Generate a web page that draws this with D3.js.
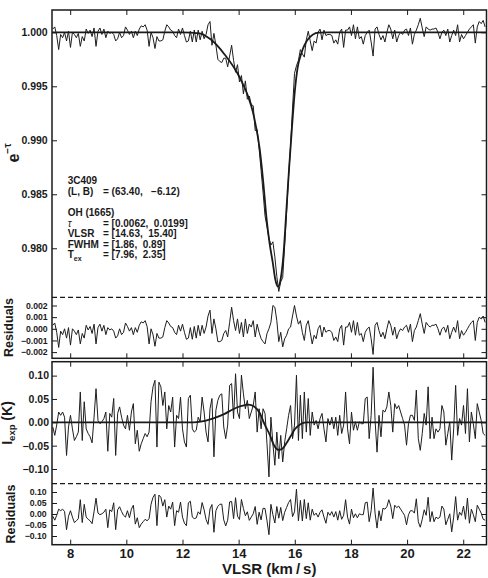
<!DOCTYPE html>
<html>
<head>
<meta charset="utf-8">
<script src="https://cdn.jsdelivr.net/npm/d3@7"></script>
<style>
  body { margin: 0; background: #fff; }
  svg { display: block; font-family: "Liberation Sans", Arial, Helvetica, sans-serif; }
  text { white-space: pre; }
</style>
</head>
<body>
<script>

// Channel velocities (km/s)
var velocity = [
  7.38,7.45,7.52,7.59,7.66,7.73,7.80,7.87,7.94,8.01,
  8.08,8.15,8.22,8.29,8.36,8.43,8.50,8.57,8.64,8.71,
  8.78,8.85,8.92,8.99,9.06,9.13,9.20,9.27,9.34,9.41,
  9.48,9.55,9.62,9.69,9.76,9.83,9.90,9.97,10.04,10.11,
  10.18,10.25,10.32,10.39,10.46,10.53,10.60,10.67,10.74,10.81,
  10.88,10.95,11.02,11.09,11.16,11.23,11.30,11.37,11.44,11.51,
  11.58,11.65,11.72,11.79,11.86,11.93,12.00,12.07,12.14,12.21,
  12.28,12.35,12.42,12.49,12.56,12.63,12.70,12.77,12.84,12.91,
  12.98,13.05,13.12,13.19,13.26,13.33,13.40,13.47,13.54,13.61,
  13.68,13.75,13.82,13.89,13.96,14.03,14.10,14.17,14.24,14.31,
  14.38,14.45,14.52,14.59,14.66,14.73,14.80,14.87,14.94,15.01,
  15.08,15.15,15.22,15.29,15.36,15.43,15.50,15.57,15.64,15.71,
  15.78,15.85,15.92,15.99,16.06,16.13,16.20,16.27,16.34,16.41,
  16.48,16.55,16.62,16.69,16.76,16.83,16.90,16.97,17.04,17.11,
  17.18,17.25,17.32,17.39,17.46,17.53,17.60,17.67,17.74,17.81,
  17.88,17.95,18.02,18.09,18.16,18.23,18.30,18.37,18.44,18.51,
  18.58,18.65,18.72,18.79,18.86,18.93,19.00,19.07,19.14,19.21,
  19.28,19.35,19.42,19.49,19.56,19.63,19.70,19.77,19.84,19.91,
  19.98,20.05,20.12,20.19,20.26,20.33,20.40,20.47,20.54,20.61,
  20.68,20.75,20.82,20.89,20.96,21.03,21.10,21.17,21.24,21.31,
  21.38,21.45,21.52,21.59,21.66,21.73,21.80,21.87,21.94,22.01,
  22.08,22.15,22.22,22.29,22.36,22.43,22.50,22.57,22.64,22.71,
  22.78
];

// Observed e^-tau spectrum
var tauObs = [
  1.0003,1.0005,0.9997,0.9984,0.9998,0.9995,1.0000,0.9992,1.0001,0.9986,
  1.0000,0.9998,0.9995,0.9999,0.9987,0.9996,0.9992,1.0003,0.9999,1.0002,
  0.9996,1.0004,0.9987,1.0001,1.0004,0.9998,1.0003,0.9995,1.0001,0.9999,
  1.0000,0.9998,0.9992,0.9994,1.0000,0.9995,0.9997,1.0005,1.0002,0.9998,
  1.0001,0.9995,1.0001,0.9997,1.0003,1.0006,1.0005,1.0007,1.0002,0.9987,
  1.0000,0.9995,0.9985,0.9996,0.9992,0.9992,0.9993,1.0001,1.0007,1.0005,
  1.0002,1.0001,0.9997,0.9995,1.0003,0.9998,1.0004,0.9997,0.9991,0.9992,
  1.0001,0.9991,1.0002,0.9991,1.0002,0.9993,1.0001,0.9994,0.9998,1.0007,
  1.0010,0.9988,0.9999,0.9988,0.9975,0.9973,0.9972,0.9976,0.9976,0.9968,
  0.9978,0.9988,0.9974,0.9963,0.9970,0.9954,0.9960,0.9943,0.9955,0.9938,
  0.9941,0.9933,0.9932,0.9909,0.9910,0.9892,0.9872,0.9852,0.9830,0.9820,
  0.9809,0.9803,0.9806,0.9792,0.9774,0.9760,0.9769,0.9773,0.9803,0.9834,
  0.9867,0.9895,0.9930,0.9962,0.9969,0.9974,0.9984,0.9980,0.9977,0.9993,
  1.0001,0.9992,0.9983,0.9992,0.9990,1.0000,1.0003,0.9993,1.0002,0.9997,
  0.9998,0.9998,0.9997,0.9990,0.9993,0.9989,1.0000,1.0003,0.9986,1.0002,
  1.0002,1.0005,0.9997,1.0007,0.9994,1.0005,0.9994,0.9996,0.9989,0.9997,
  1.0000,1.0002,0.9991,0.9978,1.0003,1.0005,0.9998,0.9993,0.9997,0.9991,
  1.0000,1.0007,1.0003,0.9994,1.0002,0.9991,0.9997,1.0000,0.9998,1.0002,
  1.0003,0.9997,1.0004,0.9989,0.9998,1.0002,1.0007,1.0013,1.0004,0.9996,
  1.0005,1.0003,1.0002,1.0003,1.0003,1.0004,1.0000,0.9994,1.0000,1.0002,
  0.9997,1.0003,0.9991,0.9997,1.0002,0.9997,1.0007,0.9991,0.9998,0.9994,
  0.9997,1.0000,1.0003,1.0005,1.0007,0.9990,1.0005,1.0010,1.0008,1.0011,
  1.0005
];

// Fitted e^-tau model
var tauFitV = [7.352,12.0,12.6,13.0,13.5,14.0,14.34,14.5,14.6,14.75,14.87,15.0,15.1,15.22,15.3,15.4,
               15.5,15.6,15.7,15.8,15.9,16.0,16.1,16.24,16.47,16.84,17.2,22.829];
var tauFit  = [1.0,1.0,0.9999,0.99935,0.99795,0.996,0.99404,0.9927,0.9915,0.9892,0.98632,0.9826,0.9805,0.97861,0.9772,0.97644,
               0.9772,0.9795,0.9835,0.9875,0.9912,0.9945,0.9967,0.9981,0.99935,0.99997,1.0,1.0];

// Residuals of the e^-tau fit
var tauRes = [
  0.0003,0.0005,-0.0003,-0.0016,-0.0002,-0.0005,0.0000,-0.0008,0.0001,-0.0014,
  0.0000,-0.0002,-0.0005,-0.0001,-0.0013,-0.0004,-0.0008,0.0003,-0.0001,0.0002,
  -0.0004,0.0004,-0.0013,0.0001,0.0004,-0.0002,0.0003,-0.0005,0.0001,-0.0001,
  0.0000,-0.0002,-0.0008,-0.0006,0.0000,-0.0005,-0.0003,0.0005,0.0002,-0.0002,
  0.0001,-0.0005,0.0001,-0.0003,0.0003,0.0006,0.0005,0.0007,0.0002,-0.0013,
  0.0000,-0.0005,-0.0015,-0.0004,-0.0008,-0.0008,-0.0007,0.0001,0.0007,0.0005,
  0.0002,0.0001,-0.0003,-0.0005,0.0003,-0.0002,0.0004,-0.0003,-0.0009,-0.0008,
  0.0001,-0.0009,0.0002,-0.0008,0.0003,-0.0006,0.0003,-0.0004,0.00015,0.0011,
  0.0016,-0.0004,0.00085,0.0000,-0.0011,-0.0011,-0.0010,-0.0004,-0.00015,-0.0007,
  0.00055,0.00185,0.0007,-0.00015,0.00085,-0.0004,0.00055,-0.0007,0.00085,-0.0004,
  0.0004,0.00015,0.0007,-0.0007,0.0004,-0.0003,-0.00085,-0.0011,-0.0013,-0.0004,
  0.0000,0.00055,0.0020,0.00185,0.0007,-0.0011,-0.0003,-0.00155,-0.00085,-0.00055,
  0.0000,0.00015,0.0011,0.0020,0.0011,0.0004,0.0007,-0.0003,-0.0010,0.0003,
  0.0007,-0.0003,-0.0013,-0.00055,-0.00085,0.0000,0.0003,-0.0007,0.00015,-0.0003,
  -0.00015,-0.00015,-0.0003,-0.0010,-0.0007,-0.0011,0.0000,0.0003,-0.0014,0.00015,
  0.00015,0.00055,-0.0003,0.0007,-0.00055,0.00055,-0.00055,-0.0004,-0.0011,-0.0003,
  0.0000,0.00015,-0.00085,-0.0022,0.0003,0.00055,-0.00015,-0.0007,-0.0003,-0.00085,
  0.0000,0.0007,0.0003,-0.00055,0.00015,-0.00085,-0.0003,0.0000,-0.00015,0.00015,
  0.0003,-0.0003,0.0004,-0.0011,-0.00015,0.00015,0.0007,0.0013,0.0004,-0.0004,
  0.00055,0.0003,0.00015,0.0003,0.0003,0.0004,0.0000,-0.00055,0.0000,0.00015,
  -0.0003,0.0003,-0.00085,-0.0003,0.00015,-0.0003,0.0007,-0.00085,-0.00015,-0.00055,
  -0.0003,0.0000,0.0003,0.00055,0.0007,-0.0010,0.00055,0.0010,0.00085,0.0011,
  0.00055
];

// Observed expected-emission spectrum T_exp (K)
var expObs = [
  -0.010,-0.028,-0.006,0.022,0.015,0.022,0.011,-0.071,-0.010,0.015,
  -0.014,-0.039,-0.031,-0.021,0.065,-0.039,0.044,-0.014,-0.024,-0.031,
  -0.044,0.011,0.072,0.004,-0.003,0.001,0.008,0.022,-0.062,0.019,
  0.011,0.051,-0.071,0.019,0.033,0.011,-0.006,-0.014,0.015,-0.017,
  0.022,0.040,-0.046,-0.017,-0.062,-0.046,-0.035,-0.024,-0.031,-0.021,
  0.044,0.076,0.090,-0.053,0.086,0.076,0.036,0.065,-0.014,0.036,
  0.022,0.054,-0.053,0.015,0.008,0.054,-0.014,-0.042,-0.053,0.051,
  0.058,-0.014,-0.021,-0.017,0.011,0.001,0.054,0.022,-0.021,-0.042,
  0.029,0.051,-0.074,0.026,0.047,0.058,0.061,-0.010,-0.035,-0.006,
  0.079,0.083,0.008,0.104,0.022,0.008,0.101,0.061,0.029,0.047,
  0.008,0.022,0.036,0.065,-0.021,0.029,-0.014,0.029,0.019,-0.046,
  -0.117,0.011,-0.046,-0.092,-0.021,-0.078,-0.028,-0.085,-0.042,-0.014,
  0.015,0.036,-0.035,-0.006,0.101,-0.039,0.058,-0.035,0.065,-0.021,
  0.051,-0.028,0.022,-0.006,0.004,-0.014,0.008,0.019,-0.014,-0.042,
  0.008,-0.006,0.011,-0.014,0.011,-0.028,0.015,-0.024,-0.006,0.065,
  -0.014,-0.046,0.022,-0.017,0.001,-0.017,0.001,-0.003,-0.003,0.051,
  0.054,-0.035,0.015,0.118,0.004,-0.064,0.015,-0.031,0.026,0.022,
  0.033,0.065,0.036,-0.021,0.040,0.029,0.036,0.022,0.008,-0.006,
  -0.049,-0.003,0.015,0.015,0.004,0.069,-0.035,-0.060,-0.024,0.019,
  -0.006,0.076,-0.035,0.011,-0.035,-0.014,-0.021,-0.014,0.036,0.022,
  -0.049,-0.024,0.001,-0.081,-0.014,0.079,-0.028,0.008,-0.006,0.036,
  -0.024,0.072,-0.042,0.022,-0.003,-0.035,0.040,0.022,0.004,-0.024,
  -0.028
];

// Fitted T_exp model
var expFitV = [7.352,12.4,12.8,13.1,13.5,13.8,14.1,14.35,14.55,14.75,14.93,15.11,15.25,15.42,15.55,15.7,15.85,16.0,16.2,16.4,22.829];
var expFit  = [0,0,0.003,0.0085,0.018,0.028,0.035,0.038,0.034,0.020,-0.005,-0.027,-0.048,-0.059,-0.057,-0.045,-0.030,-0.015,-0.004,0,0];

// Residuals of the T_exp fit
var expRes = [
  -0.010,-0.028,-0.006,0.022,0.015,0.022,0.011,-0.071,-0.010,0.015,
  -0.014,-0.039,-0.031,-0.021,0.065,-0.039,0.044,-0.014,-0.024,-0.031,
  -0.044,0.011,0.072,0.004,-0.003,0.001,0.008,0.022,-0.062,0.019,
  0.011,0.051,-0.071,0.019,0.033,0.011,-0.006,-0.014,0.015,-0.017,
  0.022,0.040,-0.046,-0.017,-0.062,-0.046,-0.035,-0.024,-0.031,-0.021,
  0.044,0.076,0.090,-0.053,0.086,0.076,0.036,0.065,-0.014,0.036,
  0.022,0.054,-0.053,0.015,0.008,0.054,-0.014,-0.042,-0.053,0.051,
  0.058,-0.014,-0.021,-0.018,0.010,-0.001,0.052,0.019,-0.025,-0.047,
  0.023,0.043,-0.083,0.015,0.035,0.044,0.045,-0.027,-0.054,-0.028,
  0.055,0.057,-0.021,0.074,-0.010,-0.025,0.066,0.025,-0.008,0.010,
  -0.029,-0.014,0.001,0.034,-0.047,0.008,-0.027,0.026,0.025,-0.031,
  -0.094,0.044,-0.003,-0.041,0.034,-0.019,0.030,-0.030,0.008,0.030,
  0.052,0.066,-0.012,0.010,0.113,-0.031,0.062,-0.032,0.066,-0.021,
  0.051,-0.028,0.022,-0.006,0.004,-0.014,0.008,0.019,-0.014,-0.042,
  0.008,-0.006,0.011,-0.014,0.011,-0.028,0.015,-0.024,-0.006,0.065,
  -0.014,-0.046,0.022,-0.017,0.001,-0.017,0.001,-0.003,-0.003,0.051,
  0.054,-0.035,0.015,0.118,0.004,-0.064,0.015,-0.031,0.026,0.022,
  0.033,0.065,0.036,-0.021,0.040,0.029,0.036,0.022,0.008,-0.006,
  -0.049,-0.003,0.015,0.015,0.004,0.069,-0.035,-0.060,-0.024,0.019,
  -0.006,0.076,-0.035,0.011,-0.035,-0.014,-0.021,-0.014,0.036,0.022,
  -0.049,-0.024,0.001,-0.081,-0.014,0.079,-0.028,0.008,-0.006,0.036,
  -0.024,0.072,-0.042,0.022,-0.003,-0.035,0.040,0.022,0.004,-0.024,
  -0.028
];

// Tick values
var xTicks = [8, 10, 12, 14, 16, 18, 20, 22];
var tauTicks = [0.980, 0.985, 0.990, 0.995, 1.000];
var tauResTicks = [-0.002, -0.001, 0, 0.001, 0.002];
var expTicks = [-0.10, -0.05, 0, 0.05, 0.10];
var expResTicks = [-0.10, -0.05, 0, 0.05, 0.10];

// Annotation text
var srcName = "3C409";
var srcCoords = ["(L, B)", "= (63.40,   \u22126.12)"];
var fitTitle = "OH (1665)";
var fitTau = "= [0.0062,  0.0199]";
var fitVlsr = "= [14.63,  15.40]";
var fitFwhm = "= [1.86,  0.89]";
var fitTex = "= [7.96,  2.35]";

// Define SVG area dimensions
var svgWidth = 488;
var svgHeight = 578;
var plotLeft = 52;
var plotRight = 486.5;
var ink = "#1a1a1a";
var dataInk = "#1e1e1e";

var svg = d3.select("body")
  .append("svg")
    .attr("width", svgWidth)
    .attr("height", svgHeight);

// Shared x scale
var x = d3.scaleLinear().domain([7.352, 22.829]).range([plotLeft, plotRight]);

// Y scales for the four stacked strips
var yTau = d3.scaleLinear().domain([0.97546, 1.002065]).range([297.3, 10]);
var yTauRes = d3.scaleLinear().domain([-0.002532, 0.002704]).range([358.3, 297.3]);
var yExp = d3.scaleLinear().domain([-0.1315, 0.1298]).range([483.7, 361.7]);
var yExpRes = d3.scaleLinear().domain([-0.1395, 0.1377]).range([544.7, 483.7]);

function styleAxis(g, size) {
  g.select(".domain").remove();
  g.selectAll(".tick line").attr("stroke", ink).attr("stroke-width", 1);
  g.selectAll(".tick text")
    .attr("fill", ink)
    .style("font-size", size + "px")
    .style("font-weight", "bold");
}

// Left and right y axes, ticks pointing inward
function yAxes(scale, ticks, fmt, size, pad) {
  svg.append("g")
    .attr("transform", "translate(" + plotLeft + ",0)")
    .call(d3.axisLeft(scale).tickValues(ticks).tickFormat(d3.format(fmt)).tickSize(-5).tickPadding(pad))
    .call(styleAxis, size);
  svg.append("g")
    .attr("transform", "translate(" + plotRight + ",0)")
    .call(d3.axisRight(scale).tickValues(ticks).tickFormat("").tickSize(-5))
    .call(styleAxis, size);
}

yAxes(yTau, tauTicks, ".3f", 10.5, 4.3);
yAxes(yTauRes, tauResTicks, ".3f", 8.7, 4.3);
yAxes(yExp, expTicks, ".2f", 10.5, 3);
yAxes(yExpRes, expResTicks, ".2f", 8.7, 5.3);

// X ticks on top/bottom of both frames
svg.append("g").attr("transform", "translate(0,10)")
  .call(d3.axisTop(x).tickValues(xTicks).tickFormat("").tickSize(-5)).call(styleAxis, 12);
svg.append("g").attr("transform", "translate(0,358.3)")
  .call(d3.axisBottom(x).tickValues(xTicks).tickFormat("").tickSize(-5)).call(styleAxis, 12);
svg.append("g").attr("transform", "translate(0,361.7)")
  .call(d3.axisTop(x).tickValues(xTicks).tickFormat("").tickSize(-5)).call(styleAxis, 12);
svg.append("g").attr("transform", "translate(0,544.7)")
  .call(d3.axisBottom(x).tickValues(xTicks).tickFormat(d3.format("d")).tickSize(-5).tickPadding(4))
  .call(styleAxis, 13);

// Lines
function drawLine(xs, ys, scale, width, color, curve) {
  var line = d3.line()
    .x(function(d) { return x(d[0]); })
    .y(function(d) { return scale(d[1]); });
  if (curve) line.curve(curve);
  svg.append("path")
    .datum(d3.zip(xs, ys))
    .attr("d", line)
    .attr("fill", "none")
    .attr("stroke", color)
    .attr("stroke-width", width)
    .attr("stroke-linejoin", "round");
}

drawLine(velocity, tauObs, yTau, 1, dataInk);
drawLine(tauFitV, tauFit, yTau, 1.8, ink, d3.curveMonotoneX);
drawLine(velocity, tauRes, yTauRes, 1, dataInk);
drawLine(velocity, expObs, yExp, 1, dataInk);
drawLine(expFitV, expFit, yExp, 1.8, ink, d3.curveMonotoneX);
drawLine(velocity, expRes, yExpRes, 1, dataInk);

// Dashed separators between data and residual strips
[297.3, 483.7].forEach(function(yy) {
  svg.append("line")
    .attr("x1", plotLeft).attr("x2", plotRight)
    .attr("y1", yy).attr("y2", yy)
    .attr("stroke", ink)
    .attr("stroke-width", 1.2)
    .attr("stroke-dasharray", "5,3");
});

// Frames
[[10, 358.3], [361.7, 544.7]].forEach(function(f) {
  svg.append("rect")
    .attr("x", plotLeft).attr("y", f[0])
    .attr("width", plotRight - plotLeft).attr("height", f[1] - f[0])
    .attr("fill", "none")
    .attr("stroke", ink)
    .attr("stroke-width", 1.5);
});

// Axis titles
var eLabel = svg.append("text")
  .attr("transform", "translate(18.5,153) rotate(-90)")
  .attr("text-anchor", "middle")
  .attr("fill", ink)
  .style("font-weight", "bold");
eLabel.append("tspan").style("font-size", "16px").text("e");
eLabel.append("tspan").style("font-size", "10px").attr("dy", -7.5).text("\u2212\u03c4");

svg.append("text")
  .attr("transform", "translate(12.7,327.5) rotate(-90)")
  .attr("text-anchor", "middle")
  .attr("fill", ink)
  .style("font-size", "12.5px")
  .style("font-weight", "bold")
  .text("Residuals");

var iLabel = svg.append("text")
  .attr("transform", "translate(12,423) rotate(-90)")
  .attr("text-anchor", "middle")
  .attr("fill", ink)
  .style("font-weight", "bold");
iLabel.append("tspan").style("font-size", "14px").text("I");
iLabel.append("tspan").style("font-size", "9.5px").attr("dy", 3).text("exp");
iLabel.append("tspan").style("font-size", "14px").attr("dy", -3).text(" (K)");

svg.append("text")
  .attr("transform", "translate(14.5,514) rotate(-90)")
  .attr("text-anchor", "middle")
  .attr("fill", ink)
  .style("font-size", "12.5px")
  .style("font-weight", "bold")
  .text("Residuals");

svg.append("text")
  .attr("x", (plotLeft + plotRight) / 2)
  .attr("y", 574)
  .attr("text-anchor", "middle")
  .attr("fill", ink)
  .style("font-size", "15px")
  .style("font-weight", "bold")
  .text("VLSR (km\u2009/\u2009s)");

// Fit annotation block
var note = svg.append("g")
  .attr("fill", ink)
  .style("font-size", "10px")
  .style("font-weight", "bold");

note.append("text").attr("x", 67.7).attr("y", 183.5).text(srcName);
note.append("text").attr("x", 67.7).attr("y", 194.5).text(srcCoords[0]);
note.append("text").attr("x", 103).attr("y", 194.5).text(srcCoords[1]);
note.append("text").attr("x", 67.7).attr("y", 216).text(fitTitle);
note.append("text").attr("x", 67.7).attr("y", 226.5).style("font-style", "italic").style("font-weight", "normal").text("\u03c4");
note.append("text").attr("x", 103).attr("y", 226.5).text(fitTau);
note.append("text").attr("x", 67.7).attr("y", 237).text("VLSR");
note.append("text").attr("x", 103).attr("y", 237).text(fitVlsr);
note.append("text").attr("x", 67.7).attr("y", 247.5).text("FWHM");
note.append("text").attr("x", 103).attr("y", 247.5).text(fitFwhm);
var tex = note.append("text").attr("x", 67.7).attr("y", 258);
tex.append("tspan").text("T");
tex.append("tspan").attr("dy", 2.5).style("font-size", "7px").text("ex");
note.append("text").attr("x", 103).attr("y", 258).text(fitTex);

</script>
</body>
</html>
